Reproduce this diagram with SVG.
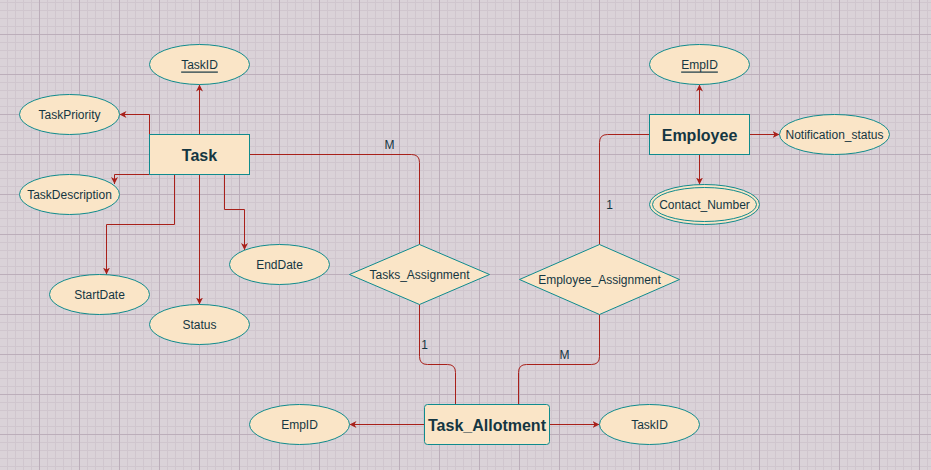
<svg xmlns="http://www.w3.org/2000/svg" width="931" height="470" viewBox="0 0 931 470">
<style>
.shape{fill:#FAE5C7;stroke:#0F8B8D;stroke-width:1}
.edge{fill:none;stroke:#A8201A;stroke-width:1}
.t{font-family:"Liberation Sans",Arial,sans-serif;font-size:12px;fill:#143642;text-anchor:middle;dominant-baseline:central}
.b{font-size:16px;font-weight:bold}
.u{text-decoration:underline}
</style>
<defs>
<pattern id="grid" patternUnits="userSpaceOnUse" x="0" y="-5" width="40" height="40">
<path d="M7.5,0V40M15.5,0V40M23.5,0V40M31.5,0V40M0,7.5H40M0,15.5H40M0,23.5H40M0,31.5H40" stroke="#d0c6ce" stroke-width="1" fill="none"/>
<path d="M39.5,0V40M0,39.5H40" stroke="#bcaeba" stroke-width="1" fill="none"/>
</pattern>
<marker id="arr" viewBox="0 0 8 8" refX="7" refY="4" markerWidth="8" markerHeight="8" markerUnits="userSpaceOnUse" orient="auto">
<path d="M0,0.5 L7,4 L0,7.5 L2,4 Z" fill="#A8201A"/>
</marker>
</defs>
<rect x="0" y="0" width="931" height="470" fill="#DAD2D8"/>
<rect x="0" y="0" width="931" height="470" fill="url(#grid)"/>

<g id="connectors">
<path class="edge" d="M199.5,134.5V84.5" marker-end="url(#arr)"/>
<path class="edge" d="M149.5,134.5V114.5H119.5" marker-end="url(#arr)"/>
<path class="edge" d="M149.5,174.5H114.5V184" marker-end="url(#arr)"/>
<path class="edge" d="M174.5,174.5V224.5H106.5V274.5" marker-end="url(#arr)"/>
<path class="edge" d="M199.5,174.5V304.5" marker-end="url(#arr)"/>
<path class="edge" d="M224.5,174.5V209.5H244.5V250" marker-end="url(#arr)"/>
<path class="edge" d="M249.5,154.5H411.5Q419.5,154.5 419.5,162.5V244.5"/>
<path class="edge" d="M419.5,304.5V356.5Q419.5,364.5 427.5,364.5H447.5Q455.5,364.5 455.5,372.5V404.5"/>
<path class="edge" d="M649.5,134.5H607.5Q599.5,134.5 599.5,142.5V244.5"/>
<path class="edge" d="M599.5,314.5V356.5Q599.5,364.5 591.5,364.5H526.5Q518.5,364.5 518.5,372.5V404.5"/>
<path class="edge" d="M699.5,114.5V84.5" marker-end="url(#arr)"/>
<path class="edge" d="M749.5,134.5H779.5" marker-end="url(#arr)"/>
<path class="edge" d="M699.5,154.5V184.5" marker-end="url(#arr)"/>
<path class="edge" d="M424.5,424.5H349.5" marker-end="url(#arr)"/>
<path class="edge" d="M549.5,424.5H599.5" marker-end="url(#arr)"/>
<text class="t" x="389.5" y="144.5">M</text>
<text class="t" x="424.5" y="345">1</text>
<text class="t" x="609.5" y="205">1</text>
<text class="t" x="564.5" y="355">M</text>
</g>

<g id="task"><rect class="shape" x="149.5" y="134.5" width="100" height="40"/><text class="t b" x="199.5" y="155">Task</text></g>
<g id="task-taskid"><ellipse class="shape" cx="199.5" cy="64.5" rx="50" ry="20"/><text class="t u" x="199.5" y="64.5">TaskID</text></g>
<g id="task-priority"><ellipse class="shape" cx="69.5" cy="114.5" rx="50" ry="20"/><text class="t" x="69.5" y="114.5">TaskPriority</text></g>
<g id="task-description"><ellipse class="shape" cx="69.5" cy="194.5" rx="50" ry="20"/><text class="t" x="69.5" y="194.5">TaskDescription</text></g>
<g id="task-startdate"><ellipse class="shape" cx="99.5" cy="294.5" rx="50" ry="20"/><text class="t" x="99.5" y="294.5">StartDate</text></g>
<g id="task-status"><ellipse class="shape" cx="199.5" cy="324.5" rx="50" ry="20"/><text class="t" x="199.5" y="324.5">Status</text></g>
<g id="task-enddate"><ellipse class="shape" cx="279.5" cy="264.5" rx="50" ry="20"/><text class="t" x="279.5" y="264.5">EndDate</text></g>

<g id="tasks-assignment"><path class="shape" d="M419.5,244.5L489.5,274.5L419.5,304.5L349.5,274.5Z"/><text class="t" x="419.5" y="274.5">Tasks_Assignment</text></g>
<g id="employee-assignment"><path class="shape" d="M599.5,244.5L679.5,279.5L599.5,314.5L519.5,279.5Z"/><text class="t" x="599.5" y="279.5">Employee_Assignment</text></g>

<g id="employee"><rect class="shape" x="649.5" y="114.5" width="100" height="40"/><text class="t b" x="699.5" y="135">Employee</text></g>
<g id="employee-empid"><ellipse class="shape" cx="699.5" cy="64.5" rx="50" ry="20"/><text class="t u" x="699.5" y="64.5">EmpID</text></g>
<g id="employee-notification"><ellipse class="shape" cx="834.5" cy="134.5" rx="55" ry="20"/><text class="t" x="834.5" y="134.5">Notification_status</text></g>
<g id="employee-contact"><ellipse class="shape" cx="704.5" cy="204.5" rx="55" ry="20"/><ellipse class="shape" cx="704.5" cy="204.5" rx="52" ry="17"/><text class="t" x="704.5" y="204.5">Contact_Number</text></g>

<g id="task-allotment"><rect class="shape" x="424.5" y="404.5" width="125" height="40" rx="3"/><text class="t b" x="487" y="425">Task_Allotment</text></g>
<g id="allot-empid"><ellipse class="shape" cx="299.5" cy="424.5" rx="50" ry="20"/><text class="t" x="299.5" y="424.5">EmpID</text></g>
<g id="allot-taskid"><ellipse class="shape" cx="649.5" cy="424.5" rx="50" ry="20"/><text class="t" x="649.5" y="424.5">TaskID</text></g>
</svg>
